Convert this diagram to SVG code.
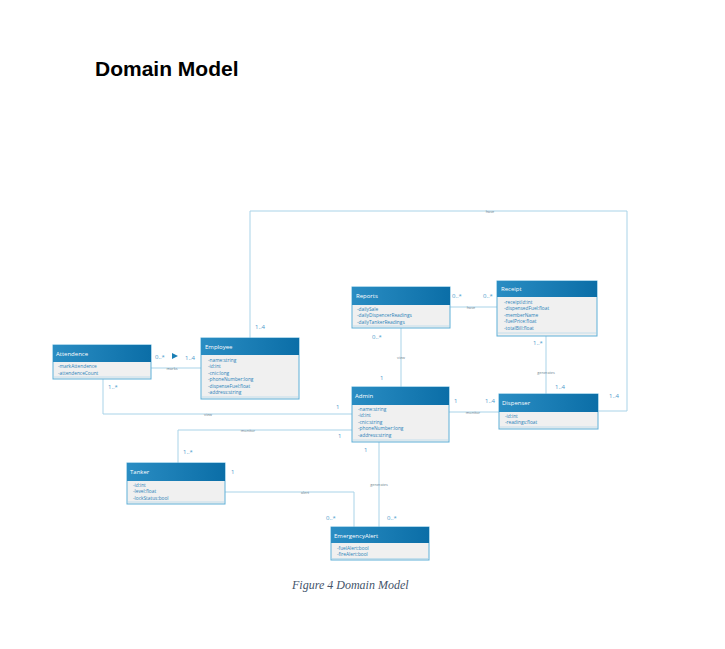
<svg xmlns="http://www.w3.org/2000/svg" width="725" height="649" viewBox="0 0 725 649">
<defs>
<linearGradient id="hdr" x1="0" y1="0" x2="1" y2="0">
<stop offset="0" stop-color="#2a8dc3"/>
<stop offset="1" stop-color="#0b6ea7"/>
</linearGradient>
<style>
.box{fill:#f0f0f0;stroke:#5fb0d8;stroke-width:1}
.hd{fill:url(#hdr)}
.ht{font-family:"Open Sans",sans-serif;font-size:6px;fill:#ffffff}
.at{font-family:"Open Sans",sans-serif;font-size:4.8px;fill:#2b82b8}
.sep{stroke:#b9d9ea;stroke-width:0.8}
.ln{fill:none;stroke:#a9d3e8;stroke-width:1}
.mu{font-family:"Open Sans",sans-serif;font-size:6px;fill:#4a9acb}
.nm{font-family:"Open Sans",sans-serif;font-size:3.8px;fill:#6a7f8c;text-anchor:middle}
</style>
</defs>
<rect width="725" height="649" fill="#ffffff"/>
<text x="95" y="76" font-family="Liberation Sans, Arial, sans-serif" font-weight="bold" font-size="21" fill="#000">Domain Model</text>

<g id="connectors">
<polyline class="ln" points="250,338 250,211 627,211 627,411 598,411"/>
<line class="ln" x1="450" y1="307" x2="497" y2="307"/>
<line class="ln" x1="401" y1="328" x2="401" y2="387"/>
<line class="ln" x1="546" y1="336" x2="546" y2="394"/>
<line class="ln" x1="151" y1="368" x2="201" y2="368"/>
<polyline class="ln" points="103,379 103,414 352,414"/>
<line class="ln" x1="449" y1="412" x2="499" y2="412"/>
<polyline class="ln" points="352,430 178,430 178,463"/>
<polyline class="ln" points="225,492 354,492 354,527"/>
<line class="ln" x1="379" y1="442" x2="379" y2="527"/>
<polygon points="172,353 178,356 172,359" fill="#1a7fb5"/>
<text class="nm" x="490" y="212.5">have</text>
<text class="nm" x="471" y="308.5">have</text>
<text class="nm" x="401" y="359">view</text>
<text class="nm" x="546" y="374">generates</text>
<text class="nm" x="172" y="369.5">marks</text>
<text class="nm" x="208" y="415.5">view</text>
<text class="nm" x="473" y="413.5">monitor</text>
<text class="nm" x="248" y="431.5">monitor</text>
<text class="nm" x="305" y="493.5">alert</text>
<text class="nm" x="379" y="486">generates</text>
<text class="mu" x="255" y="329">1..4</text>
<text class="mu" x="609" y="398">1..4</text>
<text class="mu" x="452" y="298">0..*</text>
<text class="mu" x="483" y="298">0..*</text>
<text class="mu" x="372" y="339">0..*</text>
<text class="mu" x="380" y="380">1</text>
<text class="mu" x="533" y="345">1..*</text>
<text class="mu" x="555" y="389">1..4</text>
<text class="mu" x="155" y="359">0..*</text>
<text class="mu" x="185" y="360">1..4</text>
<text class="mu" x="108" y="389">1..*</text>
<text class="mu" x="336" y="409">1</text>
<text class="mu" x="454" y="403">1</text>
<text class="mu" x="485" y="403">1..4</text>
<text class="mu" x="338" y="438">1</text>
<text class="mu" x="183" y="454">1..*</text>
<text class="mu" x="231" y="474">1</text>
<text class="mu" x="364" y="452">1</text>
<text class="mu" x="326" y="520">0..*</text>
<text class="mu" x="387" y="520">0..*</text>
</g>

<g id="reports">
<rect class="box" x="352" y="287" width="98" height="41"/>
<rect class="hd" x="352" y="287" width="98" height="18"/>
<text class="ht" x="356" y="298">Reports</text>
<text class="at" x="357" y="311">-dailySale</text>
<text class="at" x="357" y="317.3">-dailyDispencerReadings</text>
<text class="at" x="357" y="323.6">-dailyTankerReadings</text>
<line class="sep" x1="353" y1="326" x2="449" y2="326"/>
</g>

<g id="receipt">
<rect class="box" x="497" y="281" width="100" height="55"/>
<rect class="hd" x="497" y="281" width="100" height="16"/>
<text class="ht" x="501" y="291">Receipt</text>
<text class="at" x="504" y="303.7">-receiptId:int</text>
<text class="at" x="504" y="310">-dispensedFuel:float</text>
<text class="at" x="504" y="316.5">-memberName</text>
<text class="at" x="504" y="323">-fuelPrice:float</text>
<text class="at" x="504" y="329.5">-totalBill:float</text>
<line class="sep" x1="498" y1="333" x2="596" y2="333"/>
</g>

<g id="attendence">
<rect class="box" x="53" y="345" width="98" height="34"/>
<rect class="hd" x="53" y="345" width="98" height="17"/>
<text class="ht" x="56" y="356">Attendence</text>
<text class="at" x="58" y="368.4">-markAttendence</text>
<text class="at" x="58" y="375">-attendenceCount</text>
<line class="sep" x1="54" y1="377" x2="150" y2="377"/>
</g>

<g id="employee">
<rect class="box" x="201" y="338" width="98" height="61"/>
<rect class="hd" x="201" y="338" width="98" height="17"/>
<text class="ht" x="205" y="349">Employee</text>
<text class="at" x="208" y="361.7">-name:string</text>
<text class="at" x="208" y="368.2">-id:int</text>
<text class="at" x="208" y="374.7">-cnic:long</text>
<text class="at" x="208" y="381.2">-phoneNumber:long</text>
<text class="at" x="208" y="387.7">-dispenseFuel:float</text>
<text class="at" x="208" y="394.2">-address:string</text>
<line class="sep" x1="202" y1="397" x2="298" y2="397"/>
</g>

<g id="admin">
<rect class="box" x="352" y="387" width="97" height="55"/>
<rect class="hd" x="352" y="387" width="97" height="18"/>
<text class="ht" x="355" y="398">Admin</text>
<text class="at" x="358" y="411">-name:string</text>
<text class="at" x="358" y="417.4">-id:int</text>
<text class="at" x="358" y="423.8">-cnic:string</text>
<text class="at" x="358" y="430.4">-phoneNumber:long</text>
<text class="at" x="358" y="436.8">-address:string</text>
<line class="sep" x1="353" y1="440" x2="448" y2="440"/>
</g>

<g id="dispenser">
<rect class="box" x="499" y="394" width="99" height="35"/>
<rect class="hd" x="499" y="394" width="99" height="18"/>
<text class="ht" x="502" y="405">Dispenser</text>
<text class="at" x="505" y="417.7">-id:int</text>
<text class="at" x="505" y="424.3">-readings:float</text>
<line class="sep" x1="500" y1="427" x2="597" y2="427"/>
</g>

<g id="tanker">
<rect class="box" x="127" y="463" width="98" height="41"/>
<rect class="hd" x="127" y="463" width="98" height="18"/>
<text class="ht" x="130" y="474">Tanker</text>
<text class="at" x="133" y="486.7">-id:int</text>
<text class="at" x="133" y="493">-level:float</text>
<text class="at" x="133" y="499.8">-lockStatus:bool</text>
<line class="sep" x1="128" y1="502" x2="224" y2="502"/>
</g>

<g id="emergencyalert">
<rect class="box" x="331" y="527" width="98" height="33"/>
<rect class="hd" x="331" y="527" width="98" height="16"/>
<text class="ht" x="334" y="537.5">EmergencyAlert</text>
<text class="at" x="337" y="550">-fuelAlert:bool</text>
<text class="at" x="337" y="556">-fireAlert:bool</text>
<line class="sep" x1="332" y1="558.5" x2="428" y2="558.5"/>
</g>

<text x="292" y="589" font-family="Liberation Serif, 'Times New Roman', serif" font-style="italic" font-size="12" fill="#44546a">Figure 4 Domain Model</text>
</svg>
